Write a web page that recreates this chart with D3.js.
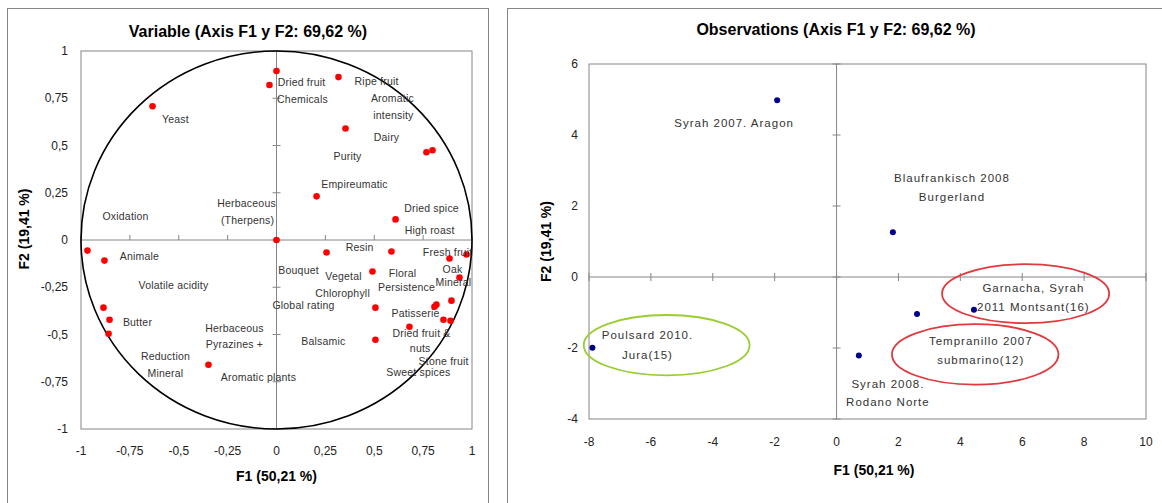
<!DOCTYPE html>
<html>
<head>
<meta charset="utf-8">
<script src="https://cdn.jsdelivr.net/npm/d3@7"></script>
<style>
  body { margin: 0; background: #fff; }
  svg { display: block; font-family: "Liberation Sans", Arial, sans-serif; }
</style>
</head>
<body>
<div id="chart"></div>
<script>
// Variables plot (correlation circle) - F1 / F2 coordinates
const varF1 = [-0.634, 0, -0.036, 0.317, 0.353, 0.767, 0.798, 0.205, 0.609, 0,
  0.256, 0.588, 0.885, 0.972, 0.491, 0.936, 0.506, 0.895, 0.808, 0.818,
  0.854, 0.89, 0.68, 0.506, -0.967, -0.88, -0.885, -0.854, -0.859, -0.348];
const varF2 = [0.708, 0.894, 0.82, 0.862, 0.59, 0.464, 0.475, 0.231, 0.109, 0,
  -0.066, -0.061, -0.098, -0.077, -0.167, -0.199, -0.358, -0.321, -0.353, -0.342,
  -0.422, -0.427, -0.459, -0.528, -0.056, -0.109, -0.358, -0.422, -0.496, -0.66];

// variable label text and where it sits (data units)
const varLabelText = ['Yeast', 'Oxidation', 'Herbaceous', '(Therpens)', 'Dried fruit', 'Chemicals',
  'Ripe fruit', 'Aromatic', 'intensity', 'Dairy', 'Purity', 'Empireumatic', 'Dried spice',
  'High roast', 'Resin', 'Fresh fruit', 'Bouquet', 'Vegetal', 'Floral', 'Oak', 'Mineral',
  'Persistence', 'Chlorophyll', 'Global rating', 'Patisserie', 'Dried fruit &', 'nuts',
  'Stone fruit', 'Sweet spices', 'Balsamic', 'Animale', 'Volatile acidity', 'Butter',
  'Herbaceous', 'Pyrazines +', 'Reduction', 'Mineral', 'Aromatic plants'];
const varLabelF1 = [-0.517, -0.772, -0.153, -0.148, 0.128, 0.133,
  0.512, 0.593, 0.598, 0.563, 0.363, 0.399, 0.793,
  0.783, 0.425, 0.875, 0.113, 0.343, 0.645, 0.9, 0.905,
  0.665, 0.338, 0.138, 0.711, 0.742, 0.735,
  0.855, 0.726, 0.24, -0.701, -0.527, -0.711,
  -0.215, -0.215, -0.568, -0.568, -0.092];
const varLabelF2 = [0.639, 0.125, 0.194, 0.103, 0.836, 0.745,
  0.841, 0.751, 0.66, 0.544, 0.443, 0.294, 0.167,
  0.05, -0.04, -0.066, -0.162, -0.194, -0.178, -0.156, -0.225,
  -0.252, -0.284, -0.347, -0.39, -0.496, -0.572,
  -0.64, -0.698, -0.538, -0.088, -0.241, -0.438,
  -0.469, -0.554, -0.618, -0.708, -0.724];

const varTicks = [-1, -0.75, -0.5, -0.25, 0, 0.25, 0.5, 0.75, 1];

// Observations plot
const obsF1 = [-1.92, 1.82, -7.89, 0.72, 2.6, 4.44];
const obsF2 = [4.98, 1.26, -1.99, -2.21, -1.04, -0.92];

const obsLabelText = ['Syrah 2007. Aragon', 'Blaufrankisch 2008', 'Burgerland',
  'Poulsard 2010.', 'Jura(15)', 'Garnacha, Syrah', '2011 Montsant(16)',
  'Tempranillo 2007', 'submarino(12)', 'Syrah 2008.', 'Rodano Norte'];
const obsLabelF1 = [-3.31, 3.73, 3.73, -6.11, -6.11, 6.36, 6.36, 4.66, 4.66, 1.66, 1.66];
const obsLabelF2 = [4.34, 2.79, 2.26, -1.64, -2.19, -0.32, -0.84, -1.81, -2.35, -3.01, -3.52];

// highlighted groups: centre and half-axes in data units
const groupColor = ['#9ACD32', '#E0393E', '#E0393E'];
const groupCx = [-5.49, 6.11, 4.48];
const groupCy = [-1.92, -0.47, -2.18];
const groupRx = [2.68, 2.7, 2.69];
const groupRy = [0.85, 0.83, 0.85];

const obsXTicks = [-8, -6, -4, -2, 0, 2, 4, 6, 8, 10];
const obsYTicks = [-4, -2, 0, 2, 4, 6];

const fmt = v => String(v).replace('.', ',');
const axisGrey = '#868686';

const svg = d3.select('#chart').append('svg')
  .attr('width', 1162)
  .attr('height', 503);

// panel borders
svg.append('rect').attr('x', 7.5).attr('y', 8.5).attr('width', 481).attr('height', 510)
  .attr('fill', 'none').attr('stroke', axisGrey);
svg.append('rect').attr('x', 507.5).attr('y', 8.5).attr('width', 670).attr('height', 510)
  .attr('fill', 'none').attr('stroke', axisGrey);

// ---------- Left: variables ----------
const L = { left: 81, right: 472, top: 51, bottom: 429 };
const xL = d3.scaleLinear().domain([-1, 1]).range([L.left, L.right]);
const yL = d3.scaleLinear().domain([-1, 1]).range([L.bottom, L.top]);
const gL = svg.append('g');

gL.append('rect')
  .attr('x', L.left).attr('y', L.top)
  .attr('width', L.right - L.left).attr('height', L.bottom - L.top)
  .attr('fill', 'none').attr('stroke', axisGrey);

// zero axes
gL.append('line')
  .attr('x1', L.left).attr('x2', L.right)
  .attr('y1', yL(0)).attr('y2', yL(0))
  .attr('stroke', axisGrey);
gL.append('line')
  .attr('x1', xL(0)).attr('x2', xL(0))
  .attr('y1', L.top).attr('y2', L.bottom)
  .attr('stroke', axisGrey);

gL.selectAll('.xt').data(varTicks).join('line')
  .attr('x1', d => xL(d)).attr('x2', d => xL(d))
  .attr('y1', yL(0) - 5).attr('y2', yL(0))
  .attr('stroke', axisGrey);
gL.selectAll('.yt').data(varTicks).join('line')
  .attr('x1', xL(0) - 4).attr('x2', xL(0) + 4)
  .attr('y1', d => yL(d)).attr('y2', d => yL(d))
  .attr('stroke', axisGrey);

// tick labels
gL.selectAll('.xl').data(varTicks).join('text')
  .attr('x', d => xL(d)).attr('y', L.bottom + 26)
  .attr('text-anchor', 'middle')
  .attr('font-size', 12).attr('fill', '#222')
  .text(fmt);
gL.selectAll('.yl').data(varTicks).join('text')
  .attr('x', L.left - 13).attr('y', d => yL(d))
  .attr('dy', '0.35em')
  .attr('text-anchor', 'end')
  .attr('font-size', 12).attr('fill', '#222')
  .text(fmt);

// correlation circle
gL.append('ellipse')
  .attr('cx', xL(0)).attr('cy', yL(0))
  .attr('rx', xL(1) - xL(0)).attr('ry', yL(0) - yL(1))
  .attr('fill', 'none').attr('stroke', '#000').attr('stroke-width', 1.6);

gL.selectAll('.vpt').data(varF1).join('circle')
  .attr('cx', d => xL(d))
  .attr('cy', (d, i) => yL(varF2[i]))
  .attr('r', 3.3)
  .attr('fill', '#FF0000');

gL.selectAll('.vlab').data(varLabelText).join('text')
  .attr('x', (d, i) => xL(varLabelF1[i]))
  .attr('y', (d, i) => yL(varLabelF2[i]))
  .attr('dy', '0.35em')
  .attr('text-anchor', 'middle')
  .attr('font-size', 10.5)
  .attr('letter-spacing', 0.2)
  .attr('fill', '#333')
  .text(d => d);

// titles
gL.append('text')
  .attr('x', 248).attr('y', 37)
  .attr('text-anchor', 'middle')
  .attr('font-size', 16).attr('font-weight', 'bold')
  .text('Variable (Axis F1 y F2: 69,62 %)');
gL.append('text')
  .attr('x', xL(0)).attr('y', 481)
  .attr('text-anchor', 'middle')
  .attr('font-size', 14).attr('font-weight', 'bold')
  .text('F1 (50,21 %)');
gL.append('text')
  .attr('transform', `translate(29,${yL(0) - 11}) rotate(-90)`)
  .attr('text-anchor', 'middle')
  .attr('font-size', 14).attr('font-weight', 'bold')
  .text('F2 (19,41 %)');

// ---------- Right: observations ----------
const R = { left: 589, right: 1146, top: 64, bottom: 419 };
const xR = d3.scaleLinear().domain([-8, 10]).range([R.left, R.right]);
const yR = d3.scaleLinear().domain([-4, 6]).range([R.bottom, R.top]);
const gR = svg.append('g');

gR.append('rect')
  .attr('x', R.left).attr('y', R.top)
  .attr('width', R.right - R.left).attr('height', R.bottom - R.top)
  .attr('fill', 'none').attr('stroke', axisGrey);

gR.append('line')
  .attr('x1', R.left).attr('x2', R.right)
  .attr('y1', yR(0)).attr('y2', yR(0))
  .attr('stroke', axisGrey);
gR.append('line')
  .attr('x1', xR(0)).attr('x2', xR(0))
  .attr('y1', R.top).attr('y2', R.bottom)
  .attr('stroke', axisGrey);

gR.selectAll('.xt').data(obsXTicks).join('line')
  .attr('x1', d => xR(d)).attr('x2', d => xR(d))
  .attr('y1', yR(0) - 4).attr('y2', yR(0) + 4)
  .attr('stroke', axisGrey);
gR.selectAll('.yt').data(obsYTicks).join('line')
  .attr('x1', xR(0) - 4).attr('x2', xR(0) + 4)
  .attr('y1', d => yR(d)).attr('y2', d => yR(d))
  .attr('stroke', axisGrey);

gR.selectAll('.xl').data(obsXTicks).join('text')
  .attr('x', d => xR(d)).attr('y', R.bottom + 27)
  .attr('text-anchor', 'middle')
  .attr('font-size', 12).attr('fill', '#222')
  .text(d => d);
gR.selectAll('.yl').data(obsYTicks).join('text')
  .attr('x', R.left - 11).attr('y', d => yR(d))
  .attr('dy', '0.35em')
  .attr('text-anchor', 'end')
  .attr('font-size', 12).attr('fill', '#222')
  .text(d => d);

gR.selectAll('.grp').data(groupCx).join('ellipse')
  .attr('cx', d => xR(d))
  .attr('cy', (d, i) => yR(groupCy[i]))
  .attr('rx', (d, i) => xR(groupRx[i]) - xR(0))
  .attr('ry', (d, i) => yR(0) - yR(groupRy[i]))
  .attr('fill', 'none')
  .attr('stroke', (d, i) => groupColor[i])
  .attr('stroke-width', 1.8);

gR.selectAll('.opt').data(obsF1).join('circle')
  .attr('cx', d => xR(d))
  .attr('cy', (d, i) => yR(obsF2[i]))
  .attr('r', 3)
  .attr('fill', '#00008B');

gR.selectAll('.olab').data(obsLabelText).join('text')
  .attr('x', (d, i) => xR(obsLabelF1[i]))
  .attr('y', (d, i) => yR(obsLabelF2[i]))
  .attr('dy', '0.35em')
  .attr('text-anchor', 'middle')
  .attr('font-size', 11.5)
  .attr('letter-spacing', 1)
  .attr('fill', '#333')
  .text(d => d);

gR.append('text')
  .attr('x', 836).attr('y', 35)
  .attr('text-anchor', 'middle')
  .attr('font-size', 16).attr('font-weight', 'bold')
  .text('Observations (Axis F1 y F2: 69,62 %)');
gR.append('text')
  .attr('x', 874).attr('y', 475)
  .attr('text-anchor', 'middle')
  .attr('font-size', 14).attr('font-weight', 'bold')
  .text('F1 (50,21 %)');
gR.append('text')
  .attr('transform', `translate(546,${(R.top + R.bottom) / 2}) rotate(-90)`)
  .attr('dy', '0.35em')
  .attr('text-anchor', 'middle')
  .attr('font-size', 14).attr('font-weight', 'bold')
  .text('F2 (19,41 %)');
</script>
</body>
</html>
